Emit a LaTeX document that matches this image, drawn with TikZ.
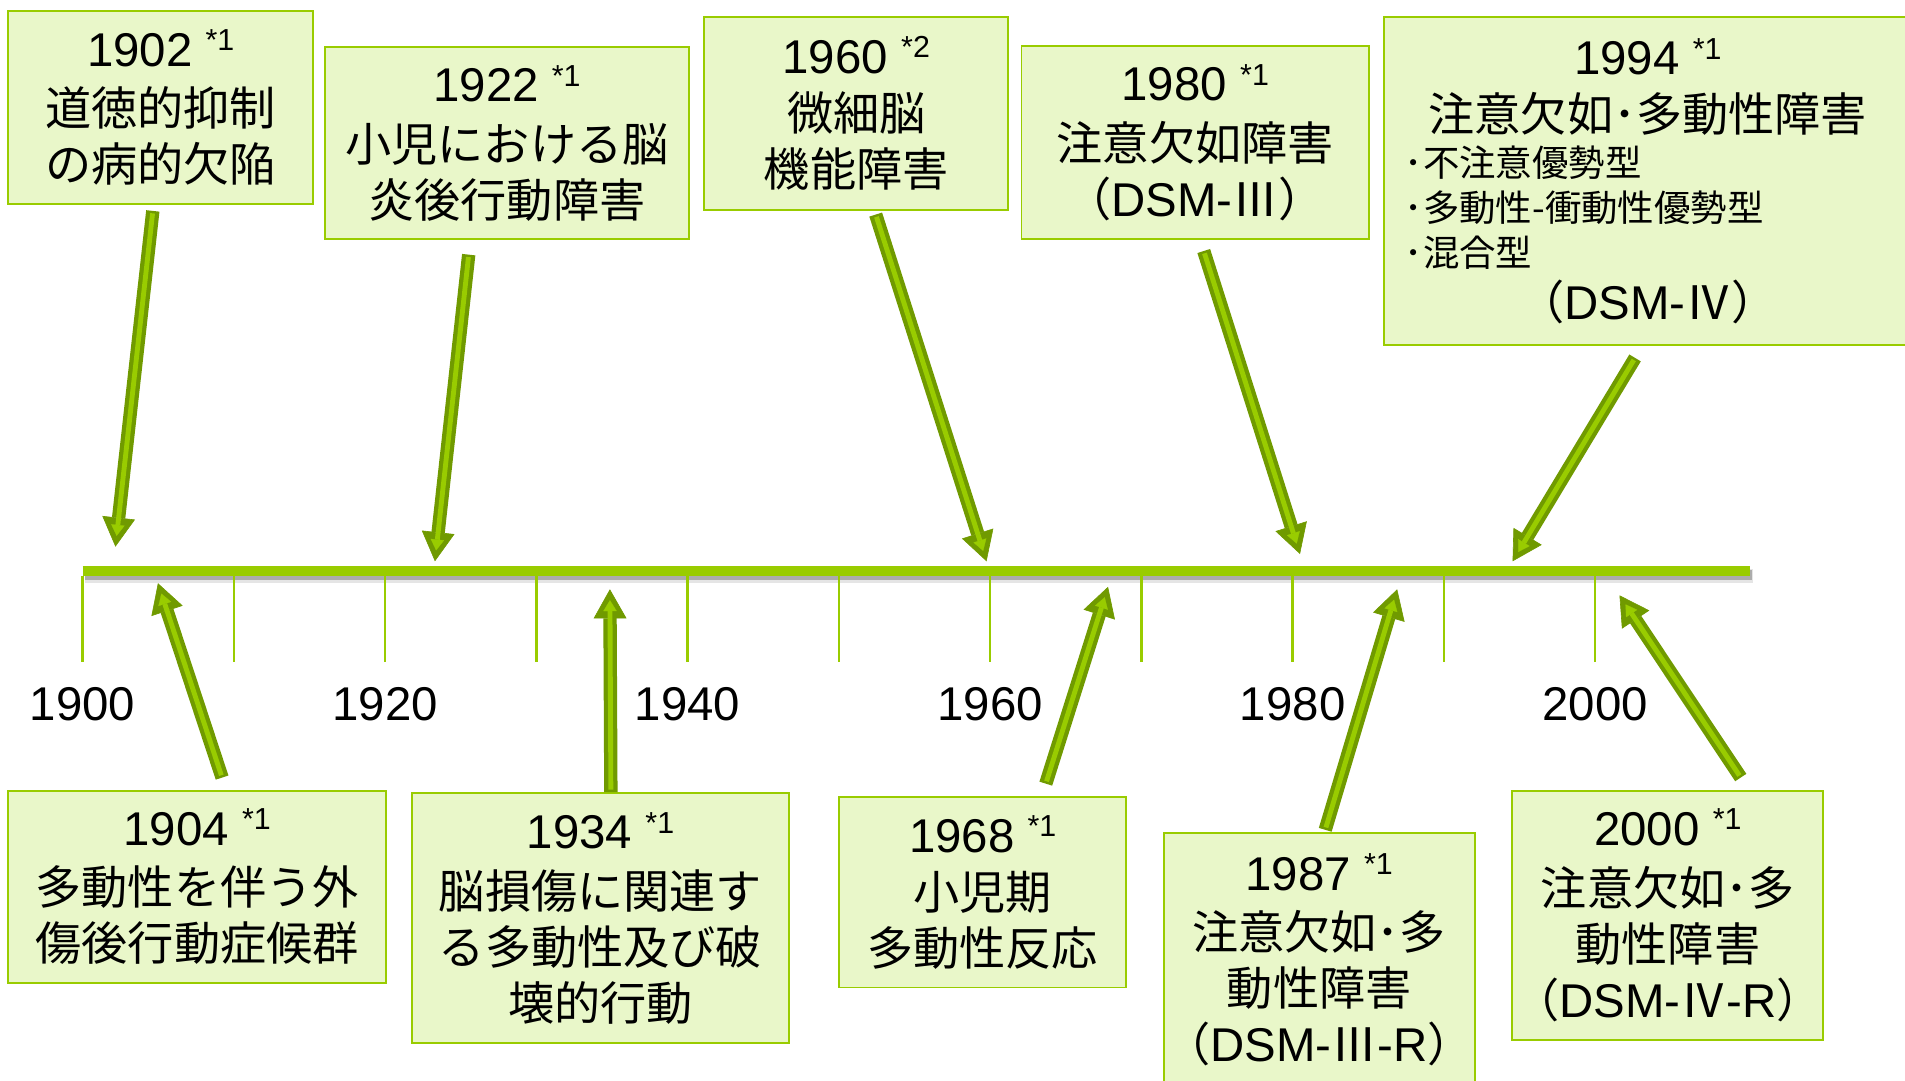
\documentclass[tikz,border=0pt]{standalone}
\usepackage{fontspec}
\setmainfont{Liberation Sans}
\newfontfamily\jp{Noto Sans CJK JP}
\usetikzlibrary{arrows.meta,calc}
\definecolor{tlgreen}{RGB}{153,204,0}
\definecolor{boxfill}{RGB}{233,247,201}
\definecolor{arrdark}{RGB}{112,154,0}
\newcommand{\yr}[2]{{\rmfamily\fontsize{39}{46}\selectfont #1 \raisebox{13pt}{\fontsize{25}{25}\selectfont *#2}}}
\newcommand{\bulletline}[1]{\makebox[400pt][l]{\fontsize{30}{36}\selectfont #1}}
\newcommand{\lat}[1]{{\rmfamily\fontsize{39}{46}\selectfont #1}}
\begin{document}
\begin{tikzpicture}[x=1pt,y=-1pt,
  evbox/.style={draw=tlgreen, line width=1.6pt, fill=boxfill, anchor=north west,
    align=center, inner sep=0pt, font=\jp\fontsize{38}{46}\selectfont},
  yearlabel/.style={font=\fontsize{39}{46}\selectfont, inner sep=0pt},
  tline/.style={line width=8pt, draw=tlgreen},
  tickline/.style={line width=2pt, draw=tlgreen},
  arrout/.style={line width=11pt, draw=arrdark,
    -{Triangle[length=24pt,width=27pt,line width=0.5pt,fill=arrdark]}},
  arrin/.style={line width=4pt, draw=tlgreen, shorten >=9pt, shorten <=2pt,
    -{Triangle[length=9pt,width=11pt,line width=0.2pt,fill=tlgreen]}}]
\useasboundingbox (0,0) rectangle (1568,889.7);
\clip (0,0) rectangle (1568,889.7);

% timeline
\coordinate (tl0) at (68,470);
\coordinate (tl1) at (1440,470);
\draw[line width=12pt, black, opacity=0.10] ($(tl0)+(2,4)$) -- ($(tl1)+(3,4)$);
\draw[line width=8pt, black, opacity=0.25] ($(tl0)+(2,3)$) -- ($(tl1)+(2,3)$);
\draw[tline] (tl0) -- (tl1);
\foreach \i in {0,...,10} {
  \draw[tickline] (68+124.5*\i,474) -- (68+124.5*\i,545);
}
\node[yearlabel] (y1900) at (68,580) {1900};
\node[yearlabel] (y1920) at (317,580) {1920};
\node[yearlabel] (y1940) at (566,580) {1940};
\node[yearlabel] (y1960) at (815,580) {1960};
\node[yearlabel] (y1980) at (1064,580) {1980};
\node[yearlabel] (y2000) at (1313,580) {2000};

% boxes (top)
\node[evbox, minimum width=251pt, minimum height=159pt] (b1902) at (6,8)
  {\yr{1902}{1}\\[3pt]道徳的抑制\\の病的欠陥};
\node[evbox, minimum width=299pt, minimum height=158pt] (b1922) at (267,38)
  {\yr{1922}{1}\\[3pt]小児における脳\\炎後行動障害};
\node[evbox, minimum width=250pt, minimum height=159pt] (b1960) at (579,13)
  {\yr{1960}{2}\\[1pt]微細脳\\機能障害};
\node[evbox, minimum width=286pt, minimum height=159pt] (b1980) at (840,37)
  {\yr{1980}{1}\\[3pt]注意欠如障害\\（\lat{DSM-}Ⅲ）};
\node[evbox, minimum width=435pt, minimum height=270pt] (b1994) at (1138,13)
  {\yr{1994}{1}\\[1pt]
   注意欠如･多動性障害\\[-9pt]
   \bulletline{･不注意優勢型}\\[-9pt]
   \bulletline{･多動性-衝動性優勢型}\\[-9pt]
   \bulletline{･混合型}\\[-3pt]
   （\lat{DSM-}Ⅳ）};

% boxes (bottom)
\node[evbox, minimum width=311pt, minimum height=158pt] (b1904) at (6,650)
  {\yr{1904}{1}\\[3pt]多動性を伴う外\\傷後行動症候群};
\node[evbox, minimum width=311pt, minimum height=206pt] (b1934) at (338,652)
  {\yr{1934}{1}\\[3pt]脳損傷に関連す\\る多動性及び破\\壊的行動};
\node[evbox, minimum width=236pt, minimum height=157pt] (b1968) at (690,655)
  {\yr{1968}{1}\\[1pt]小児期\\多動性反応};
\node[evbox, minimum width=256pt, minimum height=208pt] (b1987) at (957,685)
  {\yr{1987}{1}\\[3pt]注意欠如･多\\動性障害\\（\lat{DSM-}Ⅲ\lat{-R}）};
\node[evbox, minimum width=256pt, minimum height=205pt] (b2000) at (1244,650)
  {\yr{2000}{1}\\[3pt]注意欠如･多\\動性障害\\（\lat{DSM-}Ⅳ\lat{-R}）};

% arrow end points on the timeline
\coordinate (p1902) at (95,450);
\coordinate (p1922) at (358,462);
\coordinate (p1960) at (812,462);
\coordinate (p1980) at (1070,456);
\coordinate (p1994) at (1245,462);
\coordinate (p1904) at (130,480);
\coordinate (p1934) at (502,485);
\coordinate (p1968) at (912,483);
\coordinate (p1987) at (1150,485);
\coordinate (p2000) at (1333,490);

% arrows
\foreach \b/\p/\dx/\dy/\s in {b1902/p1902/-6.5/5/south, b1922/p1922/-31.5/12/south,
   b1960/p1960/16/3/south, b1980/p1980/7/9/south, b1994/p1994/-10.5/10/south,
   b1904/p1904/20.5/-10/north, b1934/p1934/8.5/0/north, b1968/p1968/52/-10/north,
   b1987/p1987/5/-2/north, b2000/p2000/60/-10/north} {
  \draw[arrout] ($(\b.\s)+(\dx,\dy)$) -- (\p);
  \draw[arrin] ($(\b.\s)+(\dx,\dy)$) -- (\p);
}
\end{tikzpicture}
\end{document}
